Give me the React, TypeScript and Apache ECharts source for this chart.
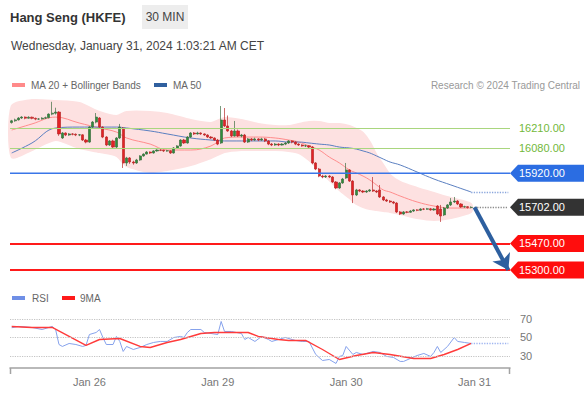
import { useEffect, useRef } from 'react';
import * as echarts from 'echarts';

const FONT = '"Liberation Sans", Arial, sans-serif';

// 30-minute slots on the time axis (148 slots, 137 of them hold candles)
const slotCount = 148;
const slots: string[] = Array.from({ length: slotCount }, (_, i) => String(i));
const dayLabels = ['Jan 26', 'Jan 29', 'Jan 30', 'Jan 31'];
const dayLabelSlots = [23, 61, 99, 137];

// [open, close, low, high]
const ohlc: number[][] = [
  [16245, 16256, 16238, 16262], [16256, 16262, 16250, 16270], [16262, 16274, 16258, 16280], [16274, 16280, 16268, 16286],
  [16280, 16273, 16266, 16284], [16273, 16279, 16270, 16285], [16279, 16272, 16266, 16283], [16272, 16267, 16260, 16277],
  [16267, 16268, 16261, 16274], [16268, 16273, 16264, 16279], [16273, 16276, 16268, 16283], [16276, 16299, 16272, 16304],
  [16299, 16305, 16292, 16378], [16305, 16312, 16296, 16340], [16312, 16172, 16160, 16318], [16146, 16178, 16140, 16184],
  [16178, 16165, 16158, 16182], [16165, 16172, 16160, 16178], [16172, 16170, 16163, 16177], [16170, 16165, 16158, 16175],
  [16165, 16166, 16158, 16171], [16166, 16133, 16127, 16170], [16133, 16120, 16112, 16140], [16120, 16216, 16115, 16222],
  [16216, 16248, 16210, 16255], [16248, 16280, 16240, 16306], [16274, 16216, 16208, 16280], [16216, 16152, 16145, 16220],
  [16152, 16101, 16094, 16158], [16101, 16127, 16095, 16133], [16127, 16088, 16082, 16135], [16088, 16146, 16080, 16152],
  [16146, 16216, 16140, 16236], [16210, 15986, 15954, 16216], [15986, 16018, 15967, 16025], [16018, 15992, 15980, 16024],
  [15992, 15986, 15975, 16000], [15986, 16005, 15980, 16012], [16005, 16031, 16000, 16036], [16031, 16043, 16026, 16048],
  [16043, 16056, 16040, 16062], [16056, 16050, 16044, 16060], [16050, 16063, 16046, 16068], [16063, 16069, 16058, 16074],
  [16069, 16067, 16062, 16074], [16067, 16063, 16056, 16070], [16063, 16064, 16058, 16070], [16064, 16050, 16044, 16068],
  [16050, 16082, 16046, 16088], [16082, 16095, 16078, 16100], [16095, 16133, 16090, 16138], [16133, 16114, 16108, 16140],
  [16114, 16152, 16110, 16158], [16152, 16178, 16146, 16184], [16178, 16172, 16165, 16184], [16172, 16178, 16168, 16186],
  [16178, 16172, 16166, 16182], [16172, 16165, 16160, 16176], [16165, 16152, 16146, 16170], [16152, 16146, 16140, 16158],
  [16146, 16133, 16127, 16150], [16133, 16107, 16100, 16140], [16114, 16261, 16108, 16351], [16261, 16223, 16216, 16338],
  [16223, 16191, 16185, 16290], [16191, 16159, 16152, 16198], [16159, 16191, 16155, 16255], [16191, 16159, 16152, 16200],
  [16159, 16165, 16150, 16172], [16165, 16120, 16114, 16172], [16120, 16140, 16114, 16146], [16140, 16133, 16126, 16146],
  [16133, 16140, 16128, 16148], [16140, 16133, 16126, 16145], [16133, 16140, 16128, 16147], [16140, 16127, 16120, 16146],
  [16127, 16107, 16100, 16132], [16107, 16101, 16094, 16114], [16101, 16107, 16096, 16114], [16107, 16101, 16094, 16112],
  [16101, 16107, 16098, 16113], [16107, 16114, 16100, 16120], [16114, 16127, 16108, 16133], [16127, 16120, 16112, 16132],
  [16120, 16107, 16100, 16125], [16107, 16101, 16095, 16112], [16101, 16095, 16090, 16106], [16095, 16096, 16088, 16102],
  [16096, 16088, 16080, 16100], [16088, 15986, 15978, 16094], [15986, 15947, 15940, 15992], [15947, 15902, 15895, 15954],
  [15902, 15896, 15888, 15910], [15896, 15902, 15890, 15908], [15902, 15896, 15889, 15908], [15896, 15864, 15858, 15902],
  [15864, 15826, 15818, 15870], [15826, 15858, 15820, 15864], [15858, 15883, 15852, 15890], [15890, 15941, 15884, 15986],
  [15941, 15870, 15864, 15946], [15870, 15781, 15729, 15876], [15781, 15813, 15774, 15820], [15813, 15806, 15799, 15818],
  [15806, 15800, 15793, 15812], [15800, 15806, 15794, 15812], [15806, 15813, 15800, 15819], [15813, 15806, 15800, 15896],
  [15806, 15800, 15793, 15812], [15813, 15768, 15762, 15845], [15768, 15749, 15742, 15774], [15749, 15742, 15736, 15756],
  [15742, 15736, 15730, 15748], [15736, 15729, 15722, 15742], [15729, 15672, 15665, 15735], [15672, 15659, 15652, 15678],
  [15659, 15672, 15654, 15678], [15672, 15670, 15664, 15678], [15670, 15678, 15666, 15684], [15678, 15685, 15672, 15690],
  [15685, 15683, 15677, 15690], [15683, 15691, 15678, 15696], [15691, 15690, 15684, 15697], [15690, 15692, 15686, 15698],
  [15692, 15685, 15680, 15698], [15685, 15691, 15680, 15697], [15710, 15659, 15652, 15716], [15691, 15646, 15608, 15717],
  [15653, 15697, 15646, 15704], [15697, 15717, 15691, 15723], [15717, 15736, 15710, 15761], [15736, 15742, 15730, 15768],
  [15742, 15723, 15716, 15748], [15723, 15704, 15698, 15729], [15704, 15706, 15699, 15712], [15706, 15700, 15694, 15710],
  [15700, 15702, 15696, 15708],
];

// Moving averages and Bollinger Bands, read at these slots
const maSlots = [0, 6, 13, 20, 26, 31, 34, 41, 46, 53, 59, 63, 68, 73, 78, 82, 85, 88, 91, 94, 97, 100, 102, 104, 106, 108, 110, 112, 115, 120, 125, 130, 136];
const ma20Values = [16197, 16236, 16280, 16242, 16210, 16184, 16146, 16107, 16069, 16069, 16095, 16146, 16152, 16152, 16146, 16133, 16120, 16095, 16069, 16024, 15986, 15941, 15922, 15902, 15877, 15845, 15813, 15800, 15774, 15736, 15710, 15697, 15697];
const ma50Values = [16050, 16114, 16210, 16216, 16216, 16216, 16210, 16191, 16172, 16146, 16133, 16127, 16127, 16127, 16127, 16120, 16120, 16114, 16107, 16101, 16088, 16082, 16075, 16063, 16050, 16031, 16011, 15992, 15973, 15928, 15883, 15845, 15800];
const bbUpper = [16351, 16389, 16383, 16370, 16313, 16287, 16313, 16313, 16300, 16261, 16242, 16274, 16261, 16236, 16223, 16223, 16236, 16248, 16248, 16236, 16236, 16223, 16204, 16178, 16120, 16037, 15973, 15909, 15864, 15826, 15793, 15761, 15723];
const bbLower = [16024, 16069, 16133, 16082, 16056, 16031, 15967, 15928, 15941, 15973, 16018, 16056, 16069, 16069, 16069, 16063, 16050, 16005, 15941, 15877, 15813, 15761, 15723, 15704, 15691, 15685, 15678, 15672, 15659, 15633, 15621, 15633, 15672];

// RSI and its 9-period MA
const rsiSlots = [0, 2, 6, 9, 12, 13, 14, 15, 17, 19, 21, 22, 23, 25, 26, 27, 28, 30, 31, 32, 33, 34, 36, 38, 40, 42, 44, 46, 48, 50, 51, 52, 53, 56, 57, 61, 62, 63, 65, 68, 69, 70, 72, 74, 76, 77, 79, 81, 83, 84, 86, 88, 90, 92, 94, 96, 97, 98, 99, 101, 102, 104, 107, 109, 111, 113, 115, 116, 118, 120, 122, 124, 125, 126, 127, 129, 131, 132, 134, 136];
const rsiValues = [60.5, 61.9, 60.8, 58.6, 61.9, 58.6, 42.4, 40.3, 43.5, 42.4, 40.3, 41.4, 53.2, 55.4, 58.6, 50, 42.4, 42.4, 51.1, 45.7, 34.9, 40.3, 37, 39.2, 42.4, 44.6, 45.7, 45.7, 50, 51.1, 50, 55.4, 58.6, 58.6, 55.4, 53.2, 67.3, 56.5, 56.5, 54.3, 47.8, 50, 45.7, 51.1, 47.8, 45.7, 47.8, 50, 47.8, 46.8, 45.7, 45.7, 31.6, 25.1, 26.2, 21.9, 29.5, 30.5, 40.3, 31.6, 33.8, 31.6, 34.9, 33.8, 29.5, 28.4, 24.1, 24.1, 27.3, 30.5, 32.7, 29.5, 33.8, 40.3, 33.8, 40.3, 50, 45.7, 44.6, 43.5];
const rsiMaSlots = [0, 6, 12, 22, 26, 32, 38, 41, 46, 50, 56, 60, 65, 70, 73, 79, 82, 87, 92, 97, 102, 107, 112, 119, 124, 128, 132, 136];
const rsiMaValues = [61.9, 60.8, 60.8, 41.4, 47.8, 48.9, 40.3, 39.2, 44.6, 47.8, 54.3, 55.4, 55.4, 55.4, 51.1, 47.8, 46.8, 46.8, 37, 26.2, 30.5, 33.8, 31.6, 27.3, 27.3, 31.6, 37, 43.5];
const rsiTicks = [30, 50, 70];

// Key levels
const resistanceLevels = [16210, 16080];
const pivotLevel = 15920;
const lastPrice = 15702;
const supportLevels = [15470, 15300];
const lastMa50 = 15800;
const lastRsi = 43.5;
const lastSlot = 136;
const arrowEndSlot = 147;

const GRID_LEFT = 10;
const GRID_RIGHT = 77;
const WIDTH = 587;
const HEIGHT = 396;

export default function App() {
  const ref = useRef<HTMLDivElement>(null);

  useEffect(() => {
    document.body.style.margin = '0';
    if (!ref.current) return;
    const chart = echarts.init(ref.current, null, { renderer: 'svg' });

    const dotted = (color: string, width = 1) => ({ type: 'dotted', color, width });
    const solid = (color: string, width = 1) => ({ type: 'solid', color, width });

    const option: any = {
      animation: false,
      textStyle: { fontFamily: FONT },
      grid: [
        { left: GRID_LEFT, right: GRID_RIGHT, top: 95, bottom: HEIGHT - 280 },
        { left: GRID_LEFT, right: GRID_RIGHT, top: 300, bottom: HEIGHT - 368 },
      ],
      xAxis: [
        { type: 'category', gridIndex: 0, data: slots, show: false, boundaryGap: true },
        {
          type: 'category', gridIndex: 1, data: slots, boundaryGap: true,
          axisLine: { show: true, lineStyle: { color: '#a3a3a3', width: 1.5 } },
          axisTick: { show: false },
          splitLine: { show: false },
          axisLabel: {
            color: '#777', fontSize: 11, margin: 8, fontFamily: FONT,
            interval: (i: number) => dayLabelSlots.includes(i),
            formatter: (_v: string, i: number) => {
              const k = dayLabelSlots.indexOf(i);
              return k >= 0 ? dayLabels[k] : '';
            },
          },
        },
      ],
      yAxis: [
        { type: 'value', gridIndex: 0, min: 15236, max: 16421.5, show: false, scale: true },
        {
          type: 'value', gridIndex: 1, min: 17, max: 90.5, position: 'right',
          axisLine: { show: false }, axisTick: { show: false }, splitLine: { show: false },
          axisLabel: { customValues: rsiTicks, color: '#777', fontSize: 11, margin: 10, fontFamily: FONT },
        },
      ],
      series: [
        {
          type: 'custom', xAxisIndex: 0, yAxisIndex: 0, z: 1, silent: true,
          data: [[maSlots[0], bbUpper[0]]],
          renderItem: (_p: any, api: any) => {
            const up = maSlots.map((s, k) => api.coord([s, bbUpper[k]]));
            const lo = maSlots.map((s, k) => api.coord([s, bbLower[k]])).reverse();
            return {
              type: 'polygon',
              shape: { points: up.concat(lo), smooth: 0.25 },
              style: { fill: '#fde1e1', stroke: '#fde1e1', lineWidth: 2 },
            };
          },
        },
        {
          type: 'line', xAxisIndex: 0, yAxisIndex: 0, z: 2, smooth: 0.4, showSymbol: false, silent: true,
          data: maSlots.map((s, k) => [slots[s], ma20Values[k]]),
          lineStyle: { color: '#ff8c8c', width: 1 },
          markLine: {
            silent: true, symbol: 'none', label: { show: false },
            data: [
              ...resistanceLevels.map((v) => ({ yAxis: v, lineStyle: solid('#a9d67e', 1) })),
              ...supportLevels.map((v) => ({ yAxis: v, lineStyle: solid('#ff1a1a', 2) })),
            ],
          },
        },
        {
          type: 'line', xAxisIndex: 0, yAxisIndex: 0, z: 2, smooth: 0.4, showSymbol: false, silent: true,
          data: maSlots.map((s, k) => [slots[s], ma50Values[k]]),
          lineStyle: { color: '#5a7fc0', width: 1 },
          markLine: {
            silent: true, symbol: 'none', label: { show: false },
            lineStyle: dotted('#8aa6dc', 1.3),
            data: [[{ coord: [slots[lastSlot], lastMa50] }, { coord: [slots[slotCount - 1], lastMa50] }]],
          },
        },
        {
          type: 'candlestick', xAxisIndex: 0, yAxisIndex: 0, z: 3, silent: true,
          barWidth: 2.6,
          data: ohlc,
          itemStyle: {
            color: '#2f8f3a', color0: '#e32226',
            borderColor: '#3f6e43', borderColor0: '#b82a2a', borderWidth: 0.7,
          },
          markLine: {
            silent: true, symbol: 'none', label: { show: false },
            data: [
              [
                { coord: [slots[lastSlot + 1], lastPrice], lineStyle: dotted('#8c8c8c', 1.3) },
                { coord: [slots[slotCount - 1], lastPrice] },
              ],
              [
                { coord: [slots[lastSlot + 1], lastPrice], symbol: 'none', lineStyle: solid('#2d5f9f', 4) },
                { coord: [slots[arrowEndSlot], supportLevels[1]], symbol: 'arrow', symbolSize: 15 },
              ],
            ],
          },
        },
        {
          type: 'line', xAxisIndex: 1, yAxisIndex: 1, z: 3, showSymbol: false, silent: true,
          data: rsiSlots.map((s, k) => [slots[s], rsiValues[k]]),
          lineStyle: { color: '#86a2ec', width: 1 },
          markLine: {
            silent: true, symbol: 'none', label: { show: false },
            data: [
              ...rsiTicks.map((v) => ({ yAxis: v, lineStyle: dotted('#c4c4c4', 1.2) })),
              [
                { coord: [slots[lastSlot], lastRsi], lineStyle: dotted('#9fb5f0', 1.3) },
                { coord: [slots[slotCount - 1], lastRsi] },
              ],
            ],
          },
        },
        {
          type: 'line', xAxisIndex: 1, yAxisIndex: 1, z: 4, showSymbol: false, silent: true,
          data: rsiMaSlots.map((s, k) => [slots[s], rsiMaValues[k]]),
          lineStyle: { color: '#ff3b3b', width: 1.4 },
        },
      ],
    };

    chart.setOption(option);

    const yOf = (v: number) => chart.convertToPixel({ yAxisIndex: 0 }, v) as number;
    const x0 = WIDTH - GRID_RIGHT;
    const tag = (v: number, bg: string) => {
      const y = yOf(v);
      return [
        {
          type: 'polygon', silent: true, z: 10,
          shape: { points: [[x0, y], [x0 + 8, y - 8.5], [584, y - 8.5], [584, y + 8.5], [x0 + 8, y + 8.5]] },
          style: { fill: bg },
        },
        {
          type: 'text', silent: true, z: 11, x: 519, y,
          style: { text: v.toFixed(2), fill: '#fff', font: `11px ${FONT}`, verticalAlign: 'middle' },
        },
      ];
    };
    const pivotY = yOf(pivotLevel);

    const graphic: any[] = [
      { type: 'text', x: 10, y: 17, style: { text: 'Hang Seng (HKFE)', fill: '#333', font: `bold 13px ${FONT}`, verticalAlign: 'middle' } },
      { type: 'rect', shape: { x: 142, y: 5, width: 46, height: 24 }, style: { fill: '#ededed' } },
      { type: 'text', x: 165, y: 17, style: { text: '30 MIN', fill: '#444', font: `12px ${FONT}`, align: 'center', verticalAlign: 'middle' } },
      { type: 'text', x: 11, y: 46, style: { text: 'Wednesday, January 31, 2024 1:03:21 AM CET', fill: '#444', font: `12px ${FONT}`, verticalAlign: 'middle' } },
      { type: 'rect', shape: { x: 12, y: 83, width: 13, height: 4 }, style: { fill: '#ff8a8a' } },
      { type: 'text', x: 31, y: 85, style: { text: 'MA 20 + Bollinger Bands', fill: '#666', font: `10px ${FONT}`, verticalAlign: 'middle' } },
      { type: 'rect', shape: { x: 154, y: 83, width: 13, height: 4 }, style: { fill: '#30609f' } },
      { type: 'text', x: 173, y: 85, style: { text: 'MA 50', fill: '#666', font: `10px ${FONT}`, verticalAlign: 'middle' } },
      { type: 'text', x: 580, y: 85, style: { text: 'Research © 2024 Trading Central', fill: '#999', font: `10px ${FONT}`, align: 'right', verticalAlign: 'middle' } },
      { type: 'rect', shape: { x: 12, y: 296, width: 13, height: 4 }, style: { fill: '#6f8fe6' } },
      { type: 'text', x: 32, y: 298, style: { text: 'RSI', fill: '#666', font: `10px ${FONT}`, verticalAlign: 'middle' } },
      { type: 'rect', shape: { x: 62, y: 296, width: 13, height: 4 }, style: { fill: '#ff1a1a' } },
      { type: 'text', x: 80, y: 298, style: { text: '9MA', fill: '#666', font: `10px ${FONT}`, verticalAlign: 'middle' } },
      { type: 'line', shape: { x1: GRID_LEFT + 0.5, y1: 368, x2: GRID_LEFT + 0.5, y2: 374 }, style: { stroke: '#a3a3a3', lineWidth: 1.5 } },
      { type: 'line', shape: { x1: x0 - 0.5, y1: 368, x2: x0 - 0.5, y2: 374 }, style: { stroke: '#a3a3a3', lineWidth: 1.5 } },
      { type: 'line', silent: true, z: 5, shape: { x1: GRID_LEFT, y1: pivotY, x2: x0, y2: pivotY }, style: { stroke: '#3a76e8', lineWidth: 1.5 } },
      ...resistanceLevels.map((v) => ({
        type: 'text', x: 519, y: yOf(v),
        style: { text: v.toFixed(2), fill: '#72b83a', font: `11px ${FONT}`, verticalAlign: 'middle' },
      })),
      ...tag(pivotLevel, '#2b6de2'),
      ...tag(lastPrice, '#333333'),
      ...supportLevels.flatMap((v) => tag(v, '#ff0d0d')),
    ];

    chart.setOption({ graphic });

    return () => chart.dispose();
  }, []);

  return <div ref={ref} style={{ width: WIDTH, height: HEIGHT }} />;
}
